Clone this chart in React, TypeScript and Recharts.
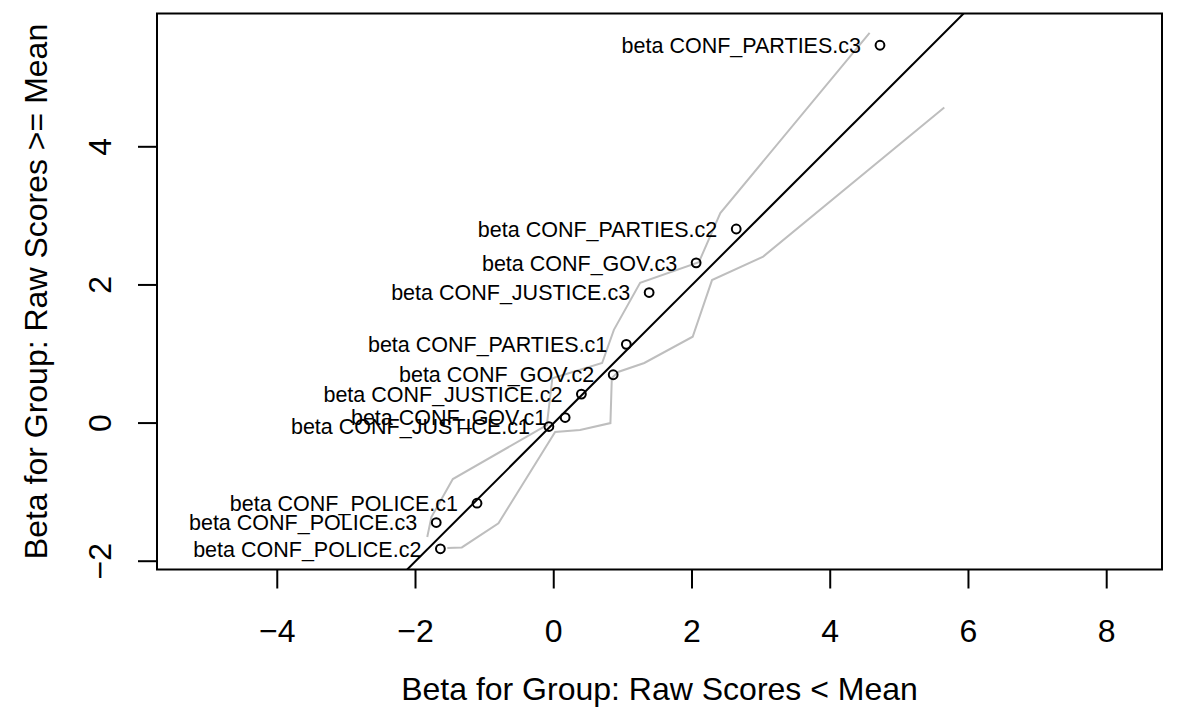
import { ScatterChart, Scatter, XAxis, YAxis, ReferenceArea } from "recharts";

// labelled coefficients
const pointNames = [
  "CONF_PARTIES.c3", "CONF_PARTIES.c2", "CONF_GOV.c3", "CONF_JUSTICE.c3",
  "CONF_PARTIES.c1", "CONF_GOV.c2", "CONF_JUSTICE.c2", "CONF_GOV.c1",
  "CONF_JUSTICE.c1", "CONF_POLICE.c1", "CONF_POLICE.c3", "CONF_POLICE.c2",
];
const betaBelow = [4.72, 2.64, 2.06, 1.38, 1.05, 0.86, 0.40, 0.165, -0.07, -1.11, -1.70, -1.64];
const betaAbove = [5.47, 2.81, 2.32, 1.89, 1.14, 0.70, 0.42, 0.08, -0.05, -1.16, -1.44, -1.82];

// grey confidence bands
const upperBandX = [-1.83, -1.77, -1.46, -0.10, -0.02, 0.70, 0.87, 1.25, 2.10, 2.41, 4.57];
const upperBandY = [-1.65, -1.36, -0.81, -0.03, 0.65, 0.87, 1.35, 2.03, 2.33, 3.04, 5.65];
const lowerBandX = [-1.54, -1.33, -0.80, 0.02, 0.38, 0.82, 0.84, 0.93, 1.31, 2.01, 2.29, 3.03, 5.65];
const lowerBandY = [-1.81, -1.80, -1.45, -0.13, -0.10, 0.0, 0.65, 0.74, 0.87, 1.25, 2.07, 2.41, 4.57];

const xTicks = [-4, -2, 0, 2, 4, 6, 8];
const yTicks = [-2, 0, 2, 4];
const xMin = -5.74, xMax = 8.8;
const yMin = -2.12, yMax = 5.93;

const FONT = "'Liberation Sans', Arial, sans-serif";
const fmt = (v: number) => String(v).replace("-", "\u2212");

const points = pointNames.map((name, i) => ({ name, x: betaBelow[i], y: betaAbove[i] }));
const upperBand = upperBandX.map((x, i) => ({ x, y: upperBandY[i] }));
const lowerBand = lowerBandX.map((x, i) => ({ x, y: lowerBandY[i] }));
const identity = [{ x: yMin, y: yMin }, { x: yMax, y: yMax }];

const XTick = ({ x, y, payload }: any) => (
  <text x={x} y={y + 53} textAnchor="middle" fontSize={32} fontFamily={FONT} fill="#000">
    {fmt(payload.value)}
  </text>
);

const YTick = ({ x, y, payload }: any) => (
  <text x={x - 26.5} y={y} transform={`rotate(-90, ${x - 26.5}, ${y})`} textAnchor="middle" fontSize={32} fontFamily={FONT} fill="#000">
    {fmt(payload.value)}
  </text>
);

const PointShape = ({ cx, cy, payload }: any) => (
  <g>
    <circle cx={cx} cy={cy} r={4.4} fill="none" stroke="#000" strokeWidth={2} />
    <text x={cx - 19} y={cy} dy="0.36em" textAnchor="end" fontSize={21.5} fontFamily={FONT} fill="#000">
      beta {payload.name}
    </text>
  </g>
);

const NoShape = () => <g />;

export default function App() {
  return (
    <div style={{ position: "absolute", left: 0, top: 0, width: 1201, height: 719, background: "#fff" }}>
      <ScatterChart width={1201} height={719} margin={{ top: 13.5, right: 39, bottom: 0, left: 0 }}>
        <XAxis
          type="number"
          dataKey="x"
          domain={[xMin, xMax]}
          ticks={xTicks}
          allowDataOverflow
          height={149.5}
          axisLine={false}
          tickSize={19}
          tickMargin={0}
          tickLine={{ stroke: "#000", strokeWidth: 2 }}
          tick={<XTick />}
          label={({ viewBox }: any) => (
            <text x={viewBox.x + viewBox.width / 2} y={700} textAnchor="middle" fontSize={32} fontFamily={FONT} fill="#000">
              Beta for Group: Raw Scores &lt; Mean
            </text>
          )}
        />
        <YAxis
          type="number"
          dataKey="y"
          domain={[yMin, yMax]}
          ticks={yTicks}
          allowDataOverflow
          width={157}
          axisLine={false}
          tickSize={19}
          tickMargin={0}
          tickLine={{ stroke: "#000", strokeWidth: 2 }}
          tick={<YTick />}
          label={({ viewBox }: any) => {
            const cy = viewBox.y + viewBox.height / 2;
            return (
              <text x={47} y={cy} transform={`rotate(-90, 47, ${cy})`} textAnchor="middle" fontSize={32} fontFamily={FONT} fill="#000">
                Beta for Group: Raw Scores &gt;= Mean
              </text>
            );
          }}
        />
        <Scatter data={upperBand} line={{ stroke: "#bebebe", strokeWidth: 2 }} shape={NoShape} isAnimationActive={false} />
        <Scatter data={lowerBand} line={{ stroke: "#bebebe", strokeWidth: 2 }} shape={NoShape} isAnimationActive={false} />
        <Scatter data={points} shape={PointShape} isAnimationActive={false} />
        <Scatter data={identity} line={{ stroke: "#000", strokeWidth: 2 }} shape={NoShape} isAnimationActive={false} />
        <ReferenceArea x1={xMin} x2={xMax} y1={yMin} y2={yMax} fill="none" stroke="#000" strokeWidth={2} ifOverflow="visible" />
      </ScatterChart>
    </div>
  );
}
